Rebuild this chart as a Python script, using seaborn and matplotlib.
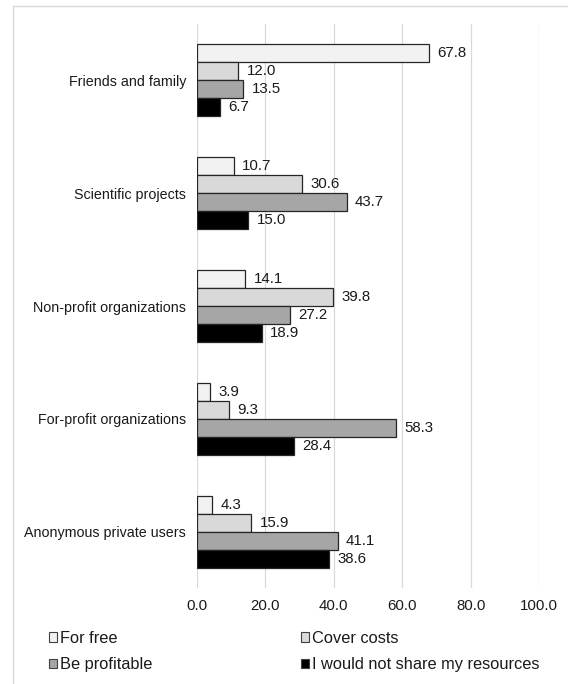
import matplotlib
matplotlib.use("Agg")
import matplotlib.pyplot as plt
import matplotlib.patches as mpatches
import matplotlib.lines as mlines
import pandas as pd
import seaborn as sns
from matplotlib.ticker import FormatStrFormatter

# data
categories = ["Friends and family", "Scientific projects", "Non-profit organizations",
              "For-profit organizations", "Anonymous private users"]
series = ["For free", "Cover costs", "Be profitable", "I would not share my resources"]
for_free = [67.8, 10.7, 14.1, 3.9, 4.3]
cover_costs = [12.0, 30.6, 39.8, 9.3, 15.9]
be_profitable = [13.5, 43.7, 27.2, 58.3, 41.1]
not_share = [6.7, 15.0, 18.9, 28.4, 38.6]
colors = ["#f2f2f2", "#d9d9d9", "#a6a6a6", "#000000"]

rows = []
for name, vals in zip(series, [for_free, cover_costs, be_profitable, not_share]):
    for cat, v in zip(categories, vals):
        rows.append({"category": cat, "answer": name, "value": v})
df = pd.DataFrame(rows)

sns.set_style("white")
plt.rcParams["font.family"] = ["Liberation Sans", "DejaVu Sans"]

fig = plt.figure(figsize=(5.68, 6.84), dpi=100)
ax = fig.add_axes([0.347, 0.140, 0.602, 0.825])

sns.barplot(data=df, y="category", x="value", hue="answer", order=categories,
            hue_order=series, palette=colors, orient="h", width=0.64,
            edgecolor="#262626", linewidth=0.9, legend=False, ax=ax)

for cont in ax.containers:
    ax.bar_label(cont, fmt="%.1f", padding=6, fontsize=10.8, color="#1a1a1a")

ax.set_xlim(0, 100)
ax.set_xticks([0, 20, 40, 60, 80, 100])
ax.xaxis.set_major_formatter(FormatStrFormatter("%.1f"))
ax.set_xlabel("")
ax.set_ylabel("")
ax.grid(axis="x", color="#d9d9d9", linewidth=0.9)
ax.set_axisbelow(True)
for s in ax.spines.values():
    s.set_visible(False)
ax.tick_params(axis="both", length=0, colors="#1a1a1a")
ax.tick_params(axis="x", pad=8, labelsize=10.8)
ax.tick_params(axis="y", pad=8, labelsize=10.3)

# legend: row-wise order, so pass handles column by column
order = [0, 2, 1, 3]
handles = [mpatches.Patch(facecolor=colors[i], edgecolor="#404040", linewidth=0.8,
                          label=series[i]) for i in order]
fig.legend(handles=handles, ncol=2, loc="center left", bbox_to_anchor=(0.072, 0.0475),
           frameon=False, fontsize=11.8, handlelength=0.5, handleheight=0.5,
           handletextpad=0.15, columnspacing=9.1, labelspacing=0.7, borderpad=0,
           labelcolor="#1a1a1a")

# outer frame (only left and top edges visible in the reference)
fig.add_artist(mlines.Line2D([13 / 568, 13 / 568], [0, 1 - 6 / 684], color="#d9d9d9",
                             linewidth=1, transform=fig.transFigure))
fig.add_artist(mlines.Line2D([13 / 568, 1], [1 - 6 / 684, 1 - 6 / 684], color="#d9d9d9",
                             linewidth=1, transform=fig.transFigure))

fig.savefig("out.png", dpi=100)
